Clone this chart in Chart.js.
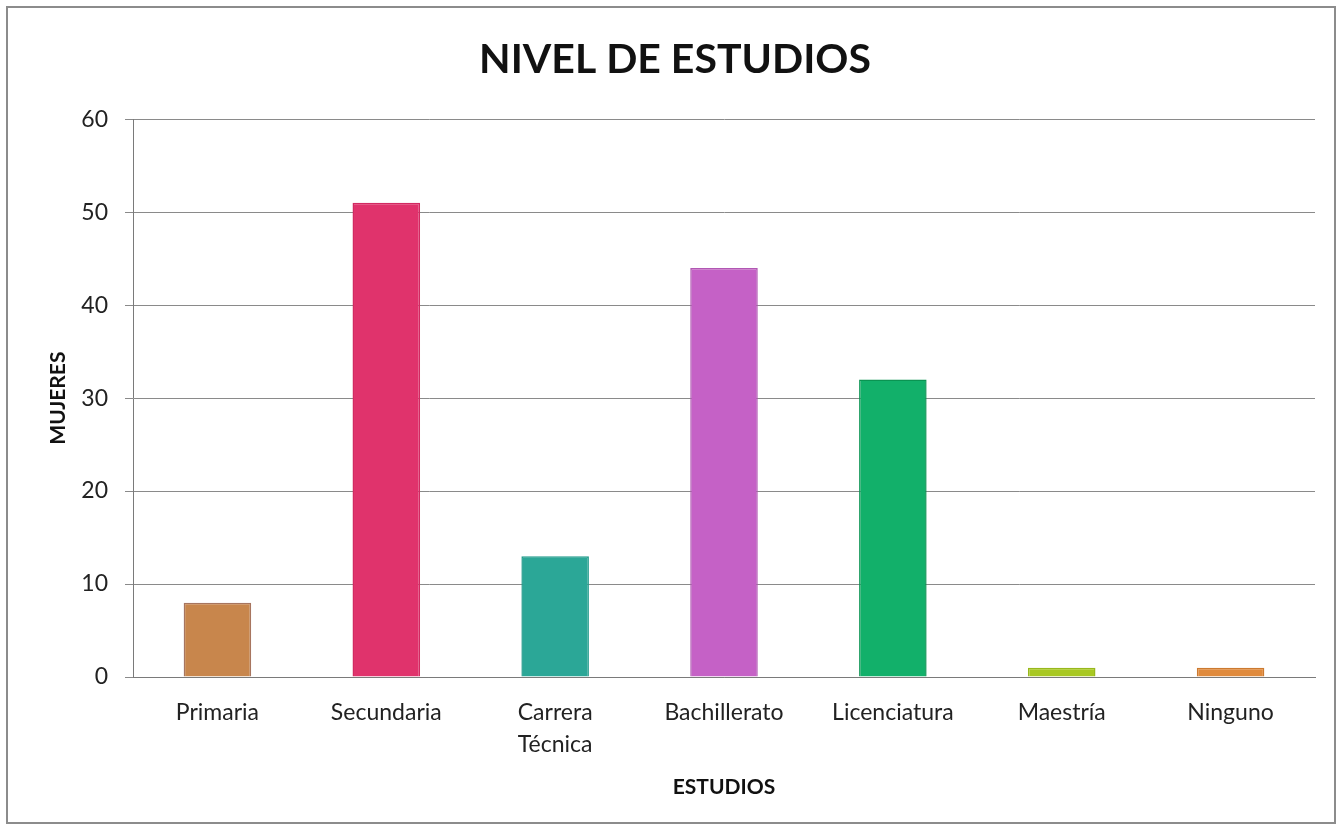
<!DOCTYPE html>
<html>
<head>
<meta charset="utf-8">
<title>Nivel de estudios</title>
<script src="https://cdn.jsdelivr.net/npm/chart.js@4/dist/chart.umd.min.js"></script>
<style>
  html, body { margin: 0; padding: 0; background: #ffffff; }
  #wrap { width: 1341px; height: 829px; position: relative; }
</style>
</head>
<body>
<div id="wrap"><canvas id="chart" width="1341" height="829"></canvas></div>
<script>
// Nivel de estudios de las mujeres encuestadas
const categories = ['Primaria', 'Secundaria', ['Carrera', 'Técnica'], 'Bachillerato', 'Licenciatura', 'Maestría', 'Ninguno'];
const mujeres = [8, 51, 13, 44, 32, 1, 1];
const yTicks = [0, 10, 20, 30, 40, 50, 60];

const fillColors = ['#c8864c', '#e0336c', '#2ba797', '#c561c6', '#12b06a', '#a8c822', '#e08a3c'];
const edgeColors = ['#a7755f', '#d22a62', '#1f9a8a', '#b157b3', '#0a9452', '#98b81c', '#cc7a30'];

const FONT = 'Lato, "Open Sans", sans-serif';
const TEXT = '#222222';

// Outer frame around the whole figure; the title is centred on the full frame width
const framePlugin = {
  id: 'frame',
  afterLayout(chart) {
    if (chart.titleBlock) {
      chart.titleBlock.left = 8;
      chart.titleBlock.right = 1342;
    }
  },
  beforeDraw(chart) {
    const ctx = chart.ctx;
    ctx.save();
    ctx.fillStyle = '#ffffff';
    ctx.fillRect(0, 0, chart.width, chart.height);
    ctx.strokeStyle = '#8c8c8c';
    ctx.lineWidth = 2;
    ctx.strokeRect(7, 7, 1328, 816);
    ctx.restore();
  }
};

new Chart(document.getElementById('chart'), {
  type: 'bar',
  data: {
    labels: categories,
    datasets: [{
      label: 'Mujeres',
      data: mujeres,
      backgroundColor: fillColors,
      borderColor: edgeColors,
      borderWidth: 1.5,
      barPercentage: 0.4,
      categoryPercentage: 1.0
    }]
  },
  options: {
    responsive: false,
    animation: false,
    devicePixelRatio: 1,
    layout: { padding: { top: 0, right: 26, bottom: 0, left: 0 } },
    plugins: {
      legend: { display: false },
      tooltip: { enabled: false },
      title: {
        display: true,
        text: 'NIVEL DE ESTUDIOS',
        color: '#111111',
        font: { family: FONT, size: 41, weight: 'bold', lineHeight: 1.2 },
        padding: { top: 35, bottom: 35 }
      }
    },
    scales: {
      x: {
        grid: { display: false, drawTicks: false },
        border: { display: true, color: '#7a7a7a', width: 1 },
        ticks: {
          color: TEXT,
          font: { family: FONT, size: 23, lineHeight: '32px' },
          padding: 20,
          maxRotation: 0,
          autoSkip: false
        },
        title: {
          display: true,
          text: 'ESTUDIOS',
          color: '#111111',
          font: { family: FONT, size: 21, weight: 'bold', lineHeight: 1.2 },
          padding: { top: 0, bottom: 29 }
        },
        afterFit(scale) { scale.height = 152; }
      },
      y: {
        min: 0,
        max: 60,
        afterBuildTicks(scale) { scale.ticks = yTicks.map(v => ({ value: v })); },
        grid: { color: '#8a8a8a', lineWidth: 1, tickLength: 8, drawTicks: true },
        border: { display: true, color: '#7a7a7a', width: 1 },
        ticks: {
          color: TEXT,
          font: { family: FONT, size: 23 },
          padding: 17
        },
        title: {
          display: true,
          text: 'MUJERES',
          color: '#111111',
          font: { family: FONT, size: 21, weight: 'bold', lineHeight: 1.2 },
          padding: { top: 46, bottom: 0 }
        },
        afterFit(scale) { scale.width = 133; }
      }
    }
  },
  plugins: [framePlugin]
});
</script>
</body>
</html>
